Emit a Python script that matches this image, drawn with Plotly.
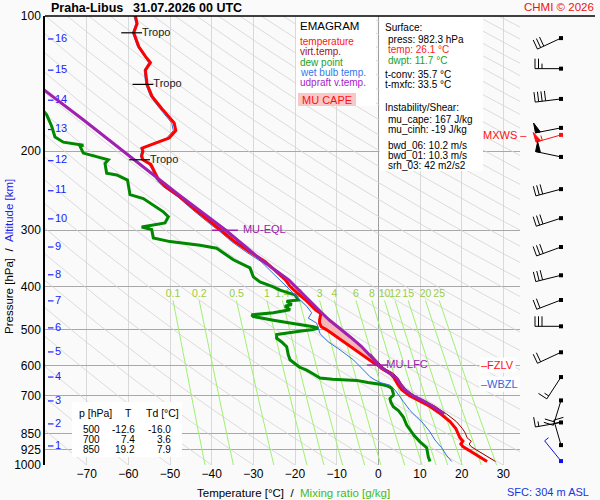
import numpy as np
import plotly.graph_objects as go

# ---------------- geometry / style ----------------
W, H = 600, 500
PX_L, PX_R, PX_T, PX_B = 45, 545, 16, 465
T_RANGE = [-80, 40]
P_TOP, P_BOT = 100, 1000
FONT = "Liberation Sans, Arial, Helvetica, sans-serif"
BG = "#fafafa"
C_T, C_TV, C_TD, C_TW, C_PAR = "#ff0000", "#990000", "#008800", "#3070e0", "#a020b0"

# ---------------- data ----------------
P_TICKS = [100, 200, 300, 400, 500, 600, 700, 850, 925, 1000]
T_TICKS = [-70, -60, -50, -40, -30, -20, -10, 0, 10, 20, 30]

temp_p = [982, 965, 945, 925, 910, 898, 885, 870, 850, 830, 800, 770, 740, 720, 700, 680, 660, 640, 625, 610,
          600, 597, 573, 544, 518, 500, 492, 483, 476, 468, 460, 452, 440, 428, 415, 400, 387, 370, 352, 335,
          318, 302, 290, 270, 252, 240, 232, 220, 214, 209, 205, 200, 197, 192, 187, 180, 173, 161, 151, 142,
          132, 127, 123, 117, 109, 104, 100]
temp_t = [26.1, 24.8, 23.0, 21.6, 20.3, 19.8, 20.3, 19.6, 19.2, 18.6, 17.2, 15.0, 12.3, 10.0, 7.4, 5.6, 4.6, 3.8, 2.8, 0.8,
          0.0, -0.6, -3.3, -6.7, -9.9, -12.4, -13.7, -14.1, -14.1, -13.9, -13.8, -15.0, -16.2, -17.6, -19.3, -21.2, -22.3, -24.6, -27.2, -30.9,
          -34.5, -37.4, -39.8, -44.0, -47.8, -51.1, -52.7, -53.9, -54.6, -56.5, -56.8, -56.5, -56.7, -53.5, -50.2, -48.6, -49.0, -51.9, -54.3, -55.5,
          -55.9, -54.7, -55.9, -57.5, -58.7, -57.9, -58.3]

tv_p = [982, 965, 945, 925, 910, 898, 885, 870, 850, 830, 800, 770, 740, 720, 700, 680, 660, 640, 625, 610, 600, 585, 565]
tv_t = [28.1, 26.7, 24.9, 23.5, 22.3, 21.8, 22.3, 21.3, 20.9, 20.2, 18.7, 16.4, 13.6, 11.2, 8.6, 6.7, 5.6, 4.7, 3.6, 1.6, 0.7, -0.4, -1.9]

td_p = [982, 960, 915, 888, 860, 844, 815, 782, 756, 742, 725, 711, 700, 693, 683, 674, 666, 662, 655, 648,
        644, 640, 628, 615, 605, 593, 583, 569, 545, 532, 522, 512, 509, 503, 500, 496, 492, 487, 483, 476,
        467, 463, 458, 451, 443, 439, 432, 429, 418, 408, 401, 391, 381, 364, 349, 329, 324, 318, 312, 299,
        295, 289, 280, 273, 264, 255, 250, 232, 226, 224, 213, 209, 202, 195, 194, 191, 186, 176, 166, 160]
td_t = [12.4, 12.0, 11.6, 10.0, 8.6, 8.0, 6.8, 6.0, 4.8, 3.6, 3.0, 2.8, 3.6, 3.6, 3.4, 3.2, 2.0, 0.8, -2.5, -5.2,
        -11.0, -14.0, -15.5, -17.2, -19.0, -20.2, -21.2, -21.6, -22.0, -23.2, -24.4, -24.4, -22.8, -18.5, -16.0, -14.4, -15.6, -19.0, -21.2, -25.2,
        -30.0, -30.4, -25.2, -21.2, -22.4, -20.8, -22.0, -19.2, -20.0, -23.6, -25.2, -28.4, -30.0, -30.8, -34.8, -38.8, -42.8, -50.0, -54.0, -54.4,
        -56.8, -51.2, -50.4, -51.6, -54.0, -56.4, -59.6, -60.2, -62.8, -65.2, -65.6, -64.8, -70.8, -71.6, -70.8, -75.6, -77.6, -78.4, -79.6, -81.0]

tw_p = [982, 950, 915, 880, 844, 808, 782, 756, 722, 705, 681, 664, 655, 645, 636, 614, 583, 554, 532, 510,
        483, 471, 458, 443, 425, 408, 387, 370, 352, 335, 318, 302, 290, 270, 252, 240, 232, 220, 214, 209,
        205, 200, 197, 192, 187, 180, 173, 161, 151, 142, 132, 127, 123, 117, 109, 104, 100]
tw_t = [17.6, 16.3, 15.2, 13.6, 12.4, 10.8, 9.2, 7.6, 6.0, 5.2, 4.0, 2.8, 0.4, -1.0, -2.0, -3.6, -6.0, -9.2, -12.0, -14.0,
        -14.8, -16.8, -16.0, -17.2, -19.2, -21.2, -23.6, -25.8, -28.2, -31.8, -35.2, -38.0, -40.5, -44.6, -48.3, -51.6, -53.2, -54.3, -55.0, -56.8,
        -57.1, -56.8, -57.0, -54.0, -50.8, -49.2, -49.6, -52.4, -54.7, -55.8, -56.2, -55.1, -56.2, -57.8, -59.0, -58.2, -58.6]

par_p = [770, 740, 720, 700, 680, 660, 640, 620, 600, 594, 573, 544, 518, 501, 476, 458, 430, 400, 387, 350, 300, 250, 200, 170, 146]
par_t = [15.8, 13.1, 10.8, 8.2, 6.4, 5.2, 4.4, 2.2, 0.0, -0.2, -1.8, -4.1, -6.8, -8.8, -11.7, -13.6, -16.6, -20.1, -21.5, -28.0, -36.6, -47.9, -61.1, -70.9, -80.3]

CAPE_BOT, CAPE_TOP = 600, 458

MR_VALUES = [0.1, 0.2, 0.5, 1, 1.4, 2, 3, 4, 6, 8, 10, 12, 15, 20, 25]
MR_LABELS = ["0.1", "0.2", "0.5", "1", "1.4", "2", "3", "4", "6", "8", "10", "12", "15", "20", "25"]
THETA_C = list(range(-80, 350, 10))

alt_km = [1, 2, 3, 4, 5, 6, 7, 8, 9, 10, 11, 12, 13, 14, 15, 16]
alt_p = [907, 810, 720, 637, 560, 495, 431, 377, 327, 283, 245, 210, 179, 154, 132, 112.5]

tropo_p = [109, 142, 209]
tropo_t = [-59.2, -56.5, -57.3]
eql_p, eql_t = 300, -36.8
lfc_p, lfc_t = 599, 0.0
fzlv_p, wbzl_p, mxws_p = 600, 660, 184

wind_p = [112, 131, 153, 177.5, 184, 206, 243, 282, 327, 378, 429, 491, 561, 637, 718, 804, 903, 980]
wind_dir = [245, 270, 263, 259, 254, 282, 255, 252, 250, 256, 249, 270, 245, 213, 197, 260, 344, 321]
wind_spd = [30, 25, 40, 50, 55, 50, 30, 30, 30, 30, 20, 30, 20, 15, 20, 15, 15, 5]

tab_p = [500, 700, 850]
tab_t = [-12.6, 7.4, 19.2]
tab_td = [-16.0, 3.6, 7.9]

surface_lines = [
    ("Surface:", "black", 382.5, 27),
    ("press: 982.3 hPa", "black", 386, 40),
    ("temp: 26.1 \u00b0C", "#ff2020", 386, 50),
    ("dwpt: 11.7 \u00b0C", "#22a022", 386, 60),
    ("t-conv: 35.7 \u00b0C", "black", 382.5, 74),
    ("t-mxfc: 33.5 \u00b0C", "black", 382.5, 84),
    ("Instability/Shear:", "black", 382.5, 108),
    ("mu_cape: 167 J/kg", "black", 386, 119),
    ("mu_cinh: -19 J/kg", "black", 386, 129),
    ("bwd_06: 10.2 m/s", "black", 386, 145),
    ("bwd_01: 10.3 m/s", "black", 386, 155),
    ("srh_03: 42 m2/s2", "black", 386, 165),
]
legend_lines = [
    ("temperature", "#ff1010", 42),
    ("virt.temp.", "#a01010", 52),
    ("dew point", "#22a022", 62),
    ("wet bulb temp.", "#3377ee", 72),
    ("udpraft v.temp.", "#aa22cc", 82),
]

# ---------------- helpers ----------------
def fx(px):
    return px / W

def fy(py):
    return 1 - py / H

PX_PER_DEC = (PX_B - PX_T) / (np.log10(P_BOT) - np.log10(P_TOP))
PX_PER_DEG = (PX_R - PX_L) / (T_RANGE[1] - T_RANGE[0])

def t_of_mixing(w, p):
    e = w * p / (622.0 + w)
    l = np.log(e / 6.112)
    return 243.5 * l / (17.67 - l)

def interp_logp(pp, tt, p):
    pp = np.asarray(pp, float); tt = np.asarray(tt, float)
    o = np.argsort(pp)
    return np.interp(np.log(p), np.log(pp[o]), tt[o])

fig = go.Figure()
NOHOV = dict(hoverinfo="skip", showlegend=False)

# dry adiabats
p_line = np.geomspace(P_TOP, P_BOT, 80)
xs, ys = [], []
for th in THETA_C:
    t = (th + 273.15) * (p_line / 1000.0) ** 0.2857 - 273.15
    xs += list(t) + [None]
    ys += list(p_line) + [None]
fig.add_trace(go.Scatter(x=xs, y=ys, mode="lines", line=dict(color="#d3d3d3", width=0.8), **NOHOV))

# mixing ratio lines
p_mr = np.geomspace(430, 1000, 30)
xs, ys = [], []
for w in MR_VALUES:
    xs += list(t_of_mixing(w, p_mr)) + [None]
    ys += list(p_mr) + [None]
fig.add_trace(go.Scatter(x=xs, y=ys, mode="lines", line=dict(color="#a0f070", width=1), **NOHOV))
fig.add_trace(go.Scatter(x=[t_of_mixing(w, 430) for w in MR_VALUES], y=[416] * len(MR_VALUES),
                         mode="text", text=MR_LABELS, textposition="middle center",
                         textfont=dict(color="#9acd40", size=10.5, family=FONT), cliponaxis=False, **NOHOV))

# altitude labels
dash_x0 = T_RANGE[0] + 3 / PX_PER_DEG
dash_x1 = T_RANGE[0] + 8.5 / PX_PER_DEG
xs, ys = [], []
for p in alt_p:
    xs += [dash_x0, dash_x1, None]
    ys += [p, p, None]
fig.add_trace(go.Scatter(x=xs, y=ys, mode="lines", line=dict(color="#2020ff", width=1.2), **NOHOV))
fig.add_trace(go.Scatter(x=[T_RANGE[0] + 10 / PX_PER_DEG] * len(alt_p), y=alt_p, mode="text",
                         text=[str(k) for k in alt_km], textposition="middle right",
                         textfont=dict(color="#2020ff", size=11, family=FONT), cliponaxis=False, **NOHOV))

# CAPE shading (between parcel and environment, LFC up to top of the positive area)
lv = sorted(set([p for p in par_p + temp_p if CAPE_TOP <= p <= CAPE_BOT]), reverse=True)
lv = np.array(lv, float)
px_par = interp_logp(par_p, par_t, lv)
px_env = interp_logp(temp_p, temp_t, lv)
fig.add_trace(go.Scatter(x=list(px_par) + list(px_env[::-1]), y=list(lv) + list(lv[::-1]),
                         mode="lines", fill="toself", fillcolor="#f4b6b6",
                         line=dict(width=0, color="#f4b6b6"), **NOHOV))

# profiles
fig.add_trace(go.Scatter(x=td_t, y=td_p, mode="lines", line=dict(color=C_TD, width=3), **NOHOV))
fig.add_trace(go.Scatter(x=tw_t, y=tw_p, mode="lines", line=dict(color=C_TW, width=1), **NOHOV))
fig.add_trace(go.Scatter(x=tv_t, y=tv_p, mode="lines", line=dict(color=C_TV, width=1), **NOHOV))
fig.add_trace(go.Scatter(x=temp_t, y=temp_p, mode="lines", line=dict(color=C_T, width=3), **NOHOV))
fig.add_trace(go.Scatter(x=par_t, y=par_p, mode="lines", line=dict(color=C_PAR, width=3), **NOHOV))

# tropopause marks
half = 2.5
xs, ys = [], []
for p, t in zip(tropo_p, tropo_t):
    xs += [t - half, t + half, None]
    ys += [p, p, None]
fig.add_trace(go.Scatter(x=xs, y=ys, mode="lines", line=dict(color="black", width=1.2), **NOHOV))
fig.add_trace(go.Scatter(x=[t + half for t in tropo_t], y=tropo_p, mode="text", text=["Tropo"] * 3,
                         textposition="middle right", textfont=dict(size=11, family=FONT, color="#202020"),
                         cliponaxis=False, **NOHOV))

# EQL / LFC marks
xs = [eql_t - 3.1, eql_t + 3.1, None, lfc_t - 2.7, lfc_t + 2.3]
ys = [eql_p, eql_p, None, lfc_p, lfc_p]
fig.add_trace(go.Scatter(x=xs, y=ys, mode="lines", line=dict(color=C_PAR, width=1.5), **NOHOV))
fig.add_trace(go.Scatter(x=[eql_t + 4.3, lfc_t + 1.9], y=[eql_p, lfc_p], mode="text", text=["MU-EQL", "MU-LFC"],
                         textposition="middle right", textfont=dict(size=11, family=FONT, color=C_PAR),
                         cliponaxis=False, **NOHOV))

# wind barbs (x2/y2 axes: x in px, y in pressure)
BARB_X, STAFF = 561, 26

def shift_p(p, dy):
    return p * 10 ** (dy / PX_PER_DEC)

for i, (p0, d, s) in enumerate(zip(wind_p, wind_dir, wind_spd)):
    col = "black"
    if p0 == mxws_p:
        col = "#ff1010"
    if i == len(wind_p) - 1:
        col = "#1010ee"
    ux, uy = np.sin(np.radians(d)), -np.cos(np.radians(d))
    nx, ny = -uy, ux
    def pt(a, b):
        return BARB_X + a, shift_p(p0, b)
    segs = [[pt(0, 0), pt(STAFF * ux, STAFF * uy)]]
    pos = STAFF
    n50, rest = divmod(s, 50)
    n10, rest = divmod(rest, 10)
    n5 = rest // 5
    polys = []
    for _ in range(n50):
        polys.append([pt(pos * ux, pos * uy), pt((pos - 5) * ux, (pos - 5) * uy),
                      pt(pos * ux + 10 * nx, pos * uy + 10 * ny), pt(pos * ux, pos * uy)])
        pos -= 6.5
    for _ in range(n10):
        segs.append([pt(pos * ux, pos * uy), pt(pos * ux + 10 * nx, pos * uy + 10 * ny)])
        pos -= 3.5
    for _ in range(n5):
        segs.append([pt(pos * ux, pos * uy), pt(pos * ux + 5 * nx, pos * uy + 5 * ny)])
    xs, ys = [], []
    for sg in segs:
        xs += [q[0] for q in sg] + [None]
        ys += [q[1] for q in sg] + [None]
    fig.add_trace(go.Scatter(x=xs, y=ys, mode="lines", line=dict(color=col, width=1),
                             xaxis="x2", yaxis="y2", **NOHOV))
    for pg in polys:
        fig.add_trace(go.Scatter(x=[q[0] for q in pg], y=[q[1] for q in pg], mode="lines", fill="toself",
                                 fillcolor=col, line=dict(color=col, width=1), xaxis="x2", yaxis="y2", **NOHOV))
    fig.add_trace(go.Scatter(x=[BARB_X], y=[p0], mode="markers", marker=dict(symbol="square", size=4, color=col),
                             xaxis="x2", yaxis="y2", **NOHOV))

# ---------------- shapes / annotations ----------------
shapes = [
    dict(type="rect", xref="paper", yref="paper", x0=fx(296), x1=fx(376), y0=fy(106), y1=fy(16.5),
         fillcolor="white", line=dict(width=0), layer="above"),
    dict(type="rect", xref="paper", yref="paper", x0=fx(379.5), x1=fx(483), y0=fy(171), y1=fy(16.5),
         fillcolor="white", line=dict(width=0), layer="above"),
    dict(type="rect", xref="paper", yref="paper", x0=fx(72), x1=fx(182), y0=fy(457), y1=fy(402),
         fillcolor="white", line=dict(width=0), layer="above"),
    dict(type="rect", xref="paper", yref="paper", x0=fx(298), x1=fx(356), y0=fy(106), y1=fy(93),
         fillcolor="#f8c8c8", line=dict(width=0), layer="above"),
    dict(type="line", xref="paper", yref="paper", x0=fx(PX_L), x1=fx(595), y0=fy(PX_T), y1=fy(PX_T),
         line=dict(color="black", width=1.5), layer="above"),
]

ann = []
def txt(text, x, y, color="black", size=10.5, xanchor="left", yanchor="middle", **kw):
    ann.append(dict(text=text, x=fx(x), y=fy(y), xref="paper", yref="paper", showarrow=False,
                    xanchor=xanchor, yanchor=yanchor, font=dict(family=FONT, size=size, color=color), **kw))

txt("<b>Praha-Libus</b>", 49, 8, size=12.5)
txt("<b>31.07.2026 00 UTC</b>", 131, 8, size=12.5)
txt("CHMI \u00a9 2026", 596, 7, color="#ee1111", size=11.5, xanchor="right")
txt("SFC: 304 m ASL", 591, 492, color="#2233dd", size=11, xanchor="right")
txt('Temperature [\u00b0C]\u00a0\u00a0/\u00a0\u00a0<span style="color:#44bb22">Mixing ratio [g/kg]</span>',
    293, 493, size=11.5, xanchor="center")
txt('Pressure [hPa]\u00a0\u00a0/\u00a0\u00a0<span style="color:#2222ee">Altitude [km]</span>',
    9, 257, size=11.5, xanchor="center", textangle=-90)

txt("EMAGRAM", 298, 26, size=11.5)
for t, c, y in legend_lines:
    txt(t, 298, y, color=c, size=10)
txt("MU CAPE", 327, 100, color="#ff1010", size=11, xanchor="center")

for t, c, x, y in surface_lines:
    txt(t, x, y, color=c, size=10)

txt("p [hPa]", 95, 413, xanchor="center")
txt("T", 128, 413, xanchor="center")
txt("Td [\u00b0C]", 162, 413, xanchor="center")
for k, (p, t, td) in enumerate(zip(tab_p, tab_t, tab_td)):
    y = 429 + 10 * k
    txt(str(p), 102, y, xanchor="right", size=10)
    txt(f"{t:.1f}", 137, y, xanchor="right", size=10)
    txt(f"{td:.1f}", 173, y, xanchor="right", size=10)

for text, color, p, x, xa in [("\u2013FZLV", "#ff1010", fzlv_p, 479, "left"),
                               ("\u2013WBZL", "#3366dd", wbzl_p, 479, "left"),
                               ("MXWS \u2013", "#ff1010", mxws_p, 529, "right")]:
    ann.append(dict(text=text, x=fx(x), y=np.log10(p), xref="paper", yref="y", showarrow=False,
                    xanchor=xa, yanchor="middle", font=dict(family=FONT, size=11, color=color),
                    bgcolor="white" if xa == "left" else None, borderpad=1))

dom_y = [fy(PX_B), fy(PX_T)]
fig.update_layout(
    width=W, height=H, margin=dict(l=0, r=0, t=0, b=0, pad=0, autoexpand=False),
    paper_bgcolor=BG, plot_bgcolor=BG, showlegend=False,
    font=dict(family=FONT, size=11, color="black"),
    xaxis=dict(domain=[fx(PX_L), fx(PX_R)], range=T_RANGE, tickvals=T_TICKS, showgrid=True,
               gridcolor="#d9d9d9", gridwidth=1, zeroline=True, zerolinecolor="#a0a0a0", zerolinewidth=1,
               showline=False, ticks="", tickfont=dict(size=12, color="black"), fixedrange=True,
               automargin=False),
    yaxis=dict(domain=dom_y, type="log", range=[np.log10(P_BOT), np.log10(P_TOP)], tickvals=P_TICKS,
               ticktext=[str(p) for p in P_TICKS], showgrid=True, gridcolor="#a8a8a8", gridwidth=1,
               zeroline=False, showline=True, linecolor="black", linewidth=1.5, ticks="",
               tickfont=dict(size=12, color="black"), fixedrange=True, automargin=False),
    xaxis2=dict(domain=[fx(520), 1], range=[520, 600], visible=False, anchor="y2", fixedrange=True,
                automargin=False),
    yaxis2=dict(domain=dom_y, type="log", range=[np.log10(P_BOT), np.log10(P_TOP)], visible=False,
                anchor="x2", fixedrange=True, automargin=False),
    shapes=shapes, annotations=ann,
)

fig.write_html("out.html", config={"displayModeBar": False},
               post_script="document.body.style.margin='0';")
